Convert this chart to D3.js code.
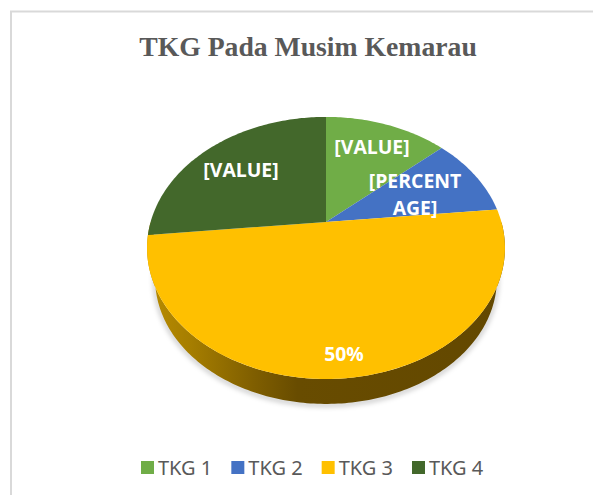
<!DOCTYPE html>
<html>
<head>
<meta charset="utf-8">
<script src="https://cdn.jsdelivr.net/npm/d3@7"></script>
<style>
  html, body { margin: 0; padding: 0; background: #fff; }
  svg { display: block; }
</style>
</head>
<body>
<div class="canvas"></div>
<script>
// chart data
const categories = ['TKG 1', 'TKG 2', 'TKG 3', 'TKG 4'];
const values = [13.4, 10, 50, 26.6];
const sliceLabels = ['[VALUE]', '[PERCENT\nAGE]', '50%', '[VALUE]'];
const sliceColors = ['#70ad47', '#4472c4', '#ffc000', '#43682b'];

const width = 593, height = 495;

const svg = d3.select('.canvas')
  .append('svg')
    .attr('width', width)
    .attr('height', height);

const defs = svg.append('defs');

// side wall of the pie goes from lighter on the left to dark brown
const sideGrad = defs.append('linearGradient')
  .attr('id', 'side')
  .attr('gradientUnits', 'userSpaceOnUse')
  .attr('x1', 147).attr('x2', 505).attr('y1', 0).attr('y2', 0);
[[0, '#b98c00'], [0.12, '#a67e00'], [0.3, '#7f5e00'], [0.42, '#684c00'], [1, '#634800']]
  .forEach(s => sideGrad.append('stop').attr('offset', s[0]).attr('stop-color', s[1]));

defs.append('filter').attr('id', 'soft')
  .attr('x', '-10%').attr('y', '-10%').attr('width', '120%').attr('height', '120%')
  .append('feGaussianBlur').attr('stdDeviation', 2.5);

// chart frame, only top and left show in the crop
svg.append('path')
  .attr('d', 'M11,495V11.5H593')
  .attr('fill', 'none')
  .attr('stroke', '#d9d9d9')
  .attr('stroke-width', 2);

svg.append('text')
  .attr('x', 308)
  .attr('y', 56)
  .attr('text-anchor', 'middle')
  .attr('font-family', '"Liberation Serif", serif')
  .attr('font-weight', 'bold')
  .attr('font-size', 27.7)
  .attr('fill', '#595959')
  .text('TKG Pada Musim Kemarau');

//===========PIE GEOMETRY=======================
// the pie is tilted with perspective: the apex sits above the centre of the outline
const cx = 326, cy = 222;
const radiusX = 175.4, radiusY = 125.9, tilt = 0.198;

// angle is clockwise from 12 o'clock, r is 0-1, s and dy are for the bottom face
const project = (angle, r, s = 1, dy = 0) => {
  const u = r * Math.sin(angle);
  const v = r * Math.cos(angle);
  const w = 1 + tilt * v;
  return [cx + s * radiusX * u / w, cy + dy - s * radiusY * v / w];
};

const line = d3.line();
const arcPoints = (a0, a1, s, dy) => {
  const n = Math.max(2, Math.ceil((a1 - a0) * 60));
  return d3.range(n + 1).map(i => project(a0 + (a1 - a0) * i / n, 1, s, dy));
};

const pie = d3.pie().sort(null);
const slices = pie(values);

// side wall: lower half of the top rim, then back along the bottom face
const bottomScale = 0.955, bottomDrop = 32;
const wall = arcPoints(Math.PI / 2, Math.PI * 3 / 2, 1, 0)
  .concat(arcPoints(Math.PI / 2, Math.PI * 3 / 2, bottomScale, bottomDrop).reverse());

svg.append('path')
  .attr('d', line(arcPoints(Math.PI / 2, Math.PI * 3 / 2, bottomScale, bottomDrop + 1)) )
  .attr('fill', 'none')
  .attr('stroke', '#000')
  .attr('stroke-opacity', 0.22)
  .attr('stroke-width', 4)
  .attr('filter', 'url(#soft)');

svg.append('path')
  .attr('d', line(wall) + 'Z')
  .attr('fill', 'url(#side)');

svg.selectAll('path.slice')
  .data(slices)
  .enter()
  .append('path')
    .attr('class', 'slice')
    .attr('d', d => line([project(0, 0)].concat(arcPoints(d.startAngle, d.endAngle, 1, 0))) + 'Z')
    .attr('fill', (d, i) => sliceColors[i]);

//===========SLICE LABELS=======================
const labelSpots = [[372, 154], [415, 188], [344, 361], [241, 177]];
const labels = svg.selectAll('text.slice-label')
  .data(sliceLabels)
  .enter()
  .append('text')
    .attr('class', 'slice-label')
    .attr('text-anchor', 'middle')
    .attr('font-family', '"Open Sans", sans-serif')
    .attr('font-weight', 'bold')
    .attr('font-size', 19.4)
    .attr('fill', '#fff')
    .attr('transform', (d, i) => `translate(${labelSpots[i][0]}, ${labelSpots[i][1]})`);

labels.selectAll('tspan')
  .data(d => d.split('\n'))
  .enter()
  .append('tspan')
    .attr('x', 0)
    .attr('y', (d, i) => i * 27)
    .text(d => d);

//===========LEGEND=======================
const legendX = d3.scalePoint()
  .domain(categories)
  .range([141, 412]);

const legend = svg.selectAll('g.legend')
  .data(categories)
  .enter()
  .append('g')
    .attr('class', 'legend')
    .attr('transform', d => `translate(${legendX(d)}, 461)`);

legend.append('rect')
  .attr('width', 13)
  .attr('height', 13)
  .attr('fill', (d, i) => sliceColors[i]);

legend.append('text')
  .attr('x', 17)
  .attr('y', 13.5)
  .attr('font-family', '"Noto Sans", sans-serif')
  .attr('font-size', 20)
  .attr('fill', '#595959')
  .text(d => d);
</script>
</body>
</html>
